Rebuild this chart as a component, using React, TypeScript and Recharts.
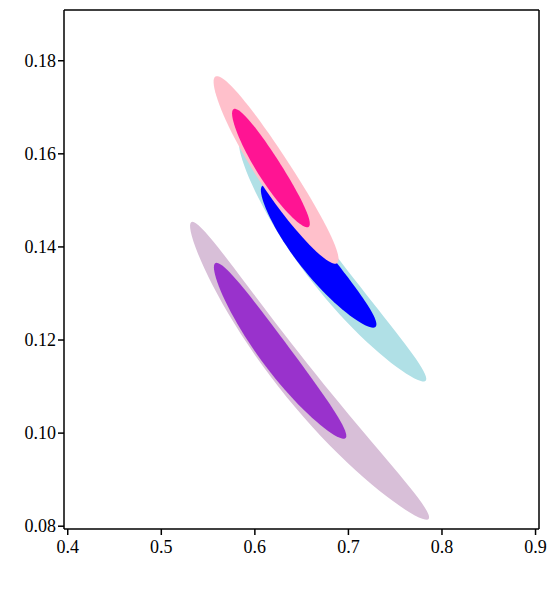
import { ReferenceLine, Scatter, ScatterChart, XAxis, YAxis } from "recharts";

const xTicks = [0.4, 0.5, 0.6, 0.7, 0.8, 0.9];
const yTicks = [0.08, 0.1, 0.12, 0.14, 0.16, 0.18];
const xDomain = [0.396, 0.9037];
const yDomain = [0.0794, 0.1909];

// credible regions, drawn back to front
const regionNames = ["outer C", "inner C", "outer B", "inner B", "outer A", "inner A"];
const regionColors = ["#D8BFD8", "#9932CC", "#B0E0E6", "#0000FF", "#FFC0CB", "#FF1493"];
// upper-left and lower-right tips of each region
const upperTip = [
  [0.5319, 0.1453],
  [0.5576, 0.1365],
  [0.5844, 0.163],
  [0.6079, 0.1531],
  [0.5578, 0.1766],
  [0.5772, 0.1696],
];
const lowerTip = [
  [0.7855, 0.0815],
  [0.6967, 0.0989],
  [0.7823, 0.1112],
  [0.7288, 0.1228],
  [0.6878, 0.1365],
  [0.6574, 0.1443],
];
// half width and bow towards lower left, in x units
const halfWidth = [0.0198, 0.016, 0.0187, 0.016, 0.0182, 0.0128];
const bow = [0.0171, 0.0064, 0.0128, 0.0053, 0.003, 0.002];

// y is stretched by this so widths read like x on screen
const K = 4.979;
const N = 90;

const outline = (i: number) => {
  const [ax, ay] = upperTip[i];
  const [bx, by] = lowerTip[i];
  const ux = bx - ax;
  const uy = (by - ay) * K;
  const len = Math.hypot(ux, uy);
  const ex = ux / len;
  const ey = uy / len;
  const cx = (ax + bx) / 2;
  const cy = ((ay + by) / 2) * K;
  const a = len / 2;
  const pts = [];
  for (let k = 0; k <= N; k++) {
    const t = (2 * Math.PI * k) / N;
    const c = Math.cos(t);
    const off = halfWidth[i] * Math.sin(t) + bow[i] * (1 - c * c);
    pts.push({ x: cx + a * c * ex + off * ey, y: (cy + a * c * ey - off * ex) / K });
  }
  return pts;
};

const serif = "'Liberation Serif', 'Times New Roman', serif";
const axisLine = { stroke: "#000", strokeWidth: 1.5 };

const XTick = ({ x, y, payload }: any) => (
  <text x={x} y={y + 16} textAnchor="middle" fill="#000" fontSize={18} fontFamily={serif}>
    {Number(payload.value).toFixed(1)}
  </text>
);

const YTick = ({ x, y, payload }: any) => (
  <text x={x} y={y + 6} textAnchor="end" fill="#000" fontSize={18} fontFamily={serif}>
    {Number(payload.value).toFixed(2)}
  </text>
);

export default function App() {
  return (
    <ScatterChart width={540} height={560} margin={{ top: 2, right: 9, bottom: 9, left: 6 }}>
      <XAxis
        dataKey="x"
        type="number"
        domain={xDomain}
        ticks={xTicks}
        tick={<XTick />}
        axisLine={axisLine}
        tickLine={axisLine}
        height={30}
        allowDataOverflow
      />
      <YAxis
        dataKey="y"
        type="number"
        domain={yDomain}
        ticks={yTicks}
        tick={<YTick />}
        axisLine={axisLine}
        tickLine={axisLine}
        width={50}
        allowDataOverflow
      />
      {regionNames.map((name, i) => (
        <Scatter
          key={name}
          name={name}
          data={outline(i)}
          fill={regionColors[i]}
          line={{ fill: regionColors[i], stroke: "none" }}
          shape={() => <g />}
          isAnimationActive={false}
        />
      ))}
      <ReferenceLine y={yDomain[1]} stroke="#000" strokeWidth={1.5} ifOverflow="visible" />
      <ReferenceLine x={xDomain[1]} stroke="#000" strokeWidth={1.5} ifOverflow="visible" />
    </ScatterChart>
  );
}
